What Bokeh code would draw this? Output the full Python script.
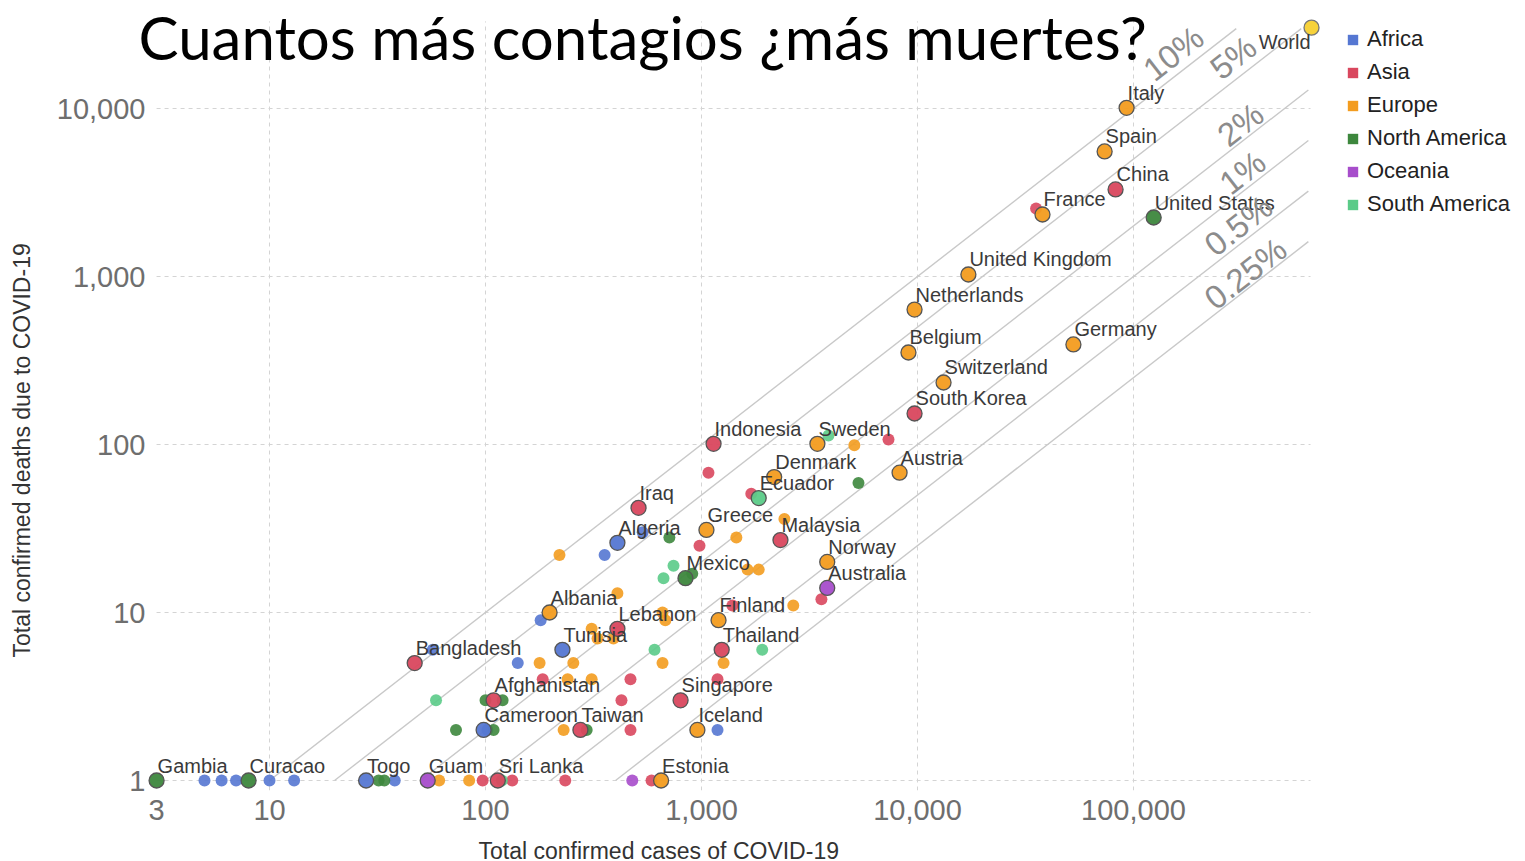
import math
from bokeh.plotting import figure
from bokeh.models import (FixedTicker, NumeralTickFormatter, Label, Legend, LegendItem,
                          ColumnDataSource, Range1d, Title)
from bokeh.embed import file_html
from bokeh.resources import INLINE
from bokeh.core.properties import value

# ---------------- data ----------------
continents = ["Africa", "Asia", "Europe", "North America", "Oceania", "South America"]
continent_colors = ["#5577D2", "#D9475E", "#F39C1F", "#3D873D", "#A74DCB", "#5BCB88"]
world_color = "#F7D23B"

# labelled countries
labeled_names = ["Italy", "Spain", "China", "France", "United States", "United Kingdom",
                 "Netherlands", "Belgium", "Germany", "Switzerland", "South Korea",
                 "Indonesia", "Sweden", "Austria", "Denmark", "Ecuador", "Iraq", "Greece",
                 "Algeria", "Malaysia", "Norway", "Mexico", "Australia", "Albania",
                 "Lebanon", "Finland", "Tunisia", "Thailand", "Bangladesh", "Afghanistan",
                 "Singapore", "Cameroon", "Taiwan", "Iceland", "Gambia", "Curacao", "Togo",
                 "Guam", "Sri Lanka", "Estonia"]
labeled_continent = ["Europe", "Europe", "Asia", "Europe", "North America", "Europe",
                     "Europe", "Europe", "Europe", "Europe", "Asia",
                     "Asia", "Europe", "Europe", "Europe", "South America", "Asia", "Europe",
                     "Africa", "Asia", "Europe", "North America", "Oceania", "Europe",
                     "Asia", "Europe", "Africa", "Asia", "Asia", "Asia",
                     "Asia", "Africa", "Asia", "Europe", "North America", "North America", "Africa",
                     "Oceania", "Asia", "Europe"]
labeled_cases = [92900, 73500, 82600, 37900, 124000, 17200,
                 9690, 9080, 52700, 13200, 9690,
                 1137, 3440, 8260, 2170, 1840, 511, 1054,
                 408, 2320, 3820, 843, 3820, 198,
                 408, 1199, 227, 1240, 47, 109,
                 800, 98, 275, 957, 3, 8, 28,
                 54, 114, 650]
labeled_deaths = [10100, 5550, 3300, 2340, 2245, 1028,
                  636, 353, 394, 234, 153,
                  101, 101, 68, 64, 48, 42, 31,
                  26, 27, 20, 16, 14, 10,
                  8, 9, 6, 6, 5, 3,
                  3, 2, 2, 2, 1, 1, 1,
                  1, 1, 1]

world_name = "World"
world_cases = 667000
world_deaths = 30300

# unlabelled countries
other_continent = (["Asia"] * 16 + ["Europe"] * 22 + ["Africa"] * 13 +
                   ["North America"] * 10 + ["South America"] * 7 + ["Oceania"] * 1)
other_cases = [35400, 7340, 1077, 1700, 979, 1390, 3590, 1186, 469, 426, 184, 469, 133, 97, 234, 587,
               5100, 2420, 1450, 220, 1634, 1840, 2660, 408, 310, 330, 391, 660, 680, 178, 255, 660,
               1265, 240, 310, 230, 61, 84,
               534, 356, 180, 57, 141, 102, 1186, 5, 6, 7, 10, 13, 38,
               5330, 710, 906, 100, 120, 73, 109, 294, 32, 34,
               3870, 742, 667, 606, 1910, 59, 119,
               478]
other_deaths = [2540, 107, 68, 51, 25, 11, 12, 4, 4, 3, 4, 2, 1, 1, 1, 1,
                99, 36, 28, 22, 18, 18, 11, 13, 8, 7, 7, 10, 9, 5, 5, 5,
                5, 4, 4, 2, 1, 1,
                30, 22, 9, 6, 5, 2, 2, 1, 1, 1, 1, 1, 1,
                59, 28, 17, 3, 3, 2, 2, 2, 1, 1,
                113, 19, 16, 6, 6, 3, 1,
                1]

# case fatality reference lines
cfr_levels = [0.10, 0.05, 0.02, 0.01, 0.005, 0.0025]
cfr_texts = ["10%", "5%", "2%", "1%", "0.5%", "0.25%"]
cfr_label_cases = [153000, 290000, 313000, 320000, 306000, 330000]
cfr_label_deaths = [21250, 20130, 8030, 4160, 2010, 1042]
line_cases_max = 645000
line_deaths_max = 29900

x_ticks = [3, 10, 100, 1000, 10000, 100000]
x_grid = [10, 100, 1000, 10000, 100000]
y_ticks = [1, 10, 100, 1000, 10000]
grid_cases_max = 660000
grid_deaths_max = 33000

title_text = "Cuantos más contagios ¿más muertes?"
x_title = "Total confirmed cases of COVID-19"
y_title = "Total confirmed deaths due to COVID-19"

# ---------------- figure ----------------
cmap = dict(zip(continents, continent_colors))
X0, X1 = 2.224, 6190000
Y0, Y1 = 0.872, 43950

p = figure(x_axis_type="log", y_axis_type="log",
           x_range=Range1d(X0, X1), y_range=Range1d(Y0, Y1),
           frame_width=1392, frame_height=790,
           min_border_left=128, min_border_top=0, min_border_right=0, min_border_bottom=0,
           output_backend="svg", toolbar_location=None, title=None)
p.outline_line_color = None
p.background_fill_color = "white"
p.border_fill_color = "white"
p.xgrid.visible = False
p.ygrid.visible = False

# axes
for ax in (p.xaxis, p.yaxis):
    ax.axis_line_color = None
    ax.major_tick_line_color = None
    ax.minor_tick_line_color = None
    ax.major_tick_out = 0
    ax.major_tick_in = 0
    ax.minor_tick_out = 0
    ax.formatter = NumeralTickFormatter(format="0,0")
    ax.major_label_text_font = "Liberation Sans"
    ax.major_label_text_font_size = "29px"
    ax.major_label_text_color = "#6e6e6e"
p.xaxis.ticker = FixedTicker(ticks=x_ticks)
p.yaxis.ticker = FixedTicker(ticks=y_ticks)
p.xaxis.major_label_standoff = 9
p.yaxis.major_label_standoff = -17

p.add_layout(Title(text=x_title, align="left", offset=350, standoff=27,
                   text_font="Liberation Sans", text_font_size="23px",
                   text_font_style="normal", text_color="#333333"), "below")
# thin spacer between the y tick labels and the y title
p.add_layout(Title(text=" ", text_font_size="1px", standoff=11), "left")
p.add_layout(Title(text=y_title, align="left", offset=133, standoff=10,
                   text_font="Liberation Sans", text_font_size="23px",
                   text_font_style="normal", text_color="#333333"), "left")

# dashed grid
p.segment(x0=[x_ticks[0]] * len(y_ticks), y0=y_ticks, x1=[grid_cases_max] * len(y_ticks), y1=y_ticks,
          line_color="#d4d4d4", line_dash="4 4", line_width=1)
p.segment(x0=x_grid, y0=[Y0] * len(x_grid), x1=x_grid, y1=[grid_deaths_max] * len(x_grid),
          line_color="#d4d4d4", line_dash="4 4", line_width=1)

# CFR lines
for lvl in cfr_levels:
    x0 = 1.0 / lvl
    x1 = min(line_cases_max, line_deaths_max / lvl)
    p.line([x0, x1], [1.0, lvl * x1], line_color="#c9c9c9", line_width=1.4)

for t, cx, cy in zip(cfr_texts, cfr_label_cases, cfr_label_deaths):
    p.add_layout(Label(x=cx, y=cy, text=t, angle=math.atan(168 / 216),
                       text_align="center", text_baseline="middle",
                       text_font="Liberation Sans", text_font_size="33px",
                       text_color="#8c8c8c"))

# unlabelled points
src_o = ColumnDataSource(dict(x=other_cases, y=other_deaths,
                              c=[cmap[k] for k in other_continent]))
p.scatter("x", "y", source=src_o, size=12, fill_color="c", fill_alpha=0.9, line_color=None)

# labelled points
src_l = ColumnDataSource(dict(x=labeled_cases, y=labeled_deaths, name=labeled_names,
                              c=[cmap[k] for k in labeled_continent]))
p.scatter("x", "y", source=src_l, size=15, fill_color="c", fill_alpha=0.95,
          line_color="#555555", line_width=1.3)
p.text("x", "y", text="name", source=src_l, x_offset=1, y_offset=-15,
       text_align="left", text_baseline="middle",
       text_font=value("Liberation Sans"), text_font_size="20px", text_color="#3a3a3a")

# world
p.scatter([world_cases], [world_deaths], size=15, fill_color=world_color,
          line_color="#777777", line_width=1.3)
p.text([world_cases], [world_deaths], text=[world_name], x_offset=-1, y_offset=14,
       text_align="right", text_baseline="middle",
       text_font=value("Liberation Sans"), text_font_size="20px", text_color="#3a3a3a")

# legend (square swatches; proxy quads have zero area at an existing data point)
items = []
for name, col in zip(continents, continent_colors):
    i = other_continent.index(name)
    cx, cy = other_cases[i], other_deaths[i]
    r = p.quad(left=[cx], right=[cx], top=[cy], bottom=[cy],
               fill_color=col, fill_alpha=1.0, line_color=None)
    items.append(LegendItem(label=name, renderers=[r]))
legend = Legend(items=items, location=(1218, 573), glyph_width=13, glyph_height=13,
                label_standoff=8, spacing=7, label_height=26, padding=0, margin=0,
                border_line_alpha=0, background_fill_alpha=0,
                label_text_font="Liberation Sans", label_text_font_size="22px",
                label_text_color="#222222")
p.add_layout(legend)

# title overlay
p.add_layout(Label(x=2.475, y=43500, text=title_text, text_align="left",
                   text_baseline="top", text_font="Lato",
                   text_font_size="60px", text_color="#000000"))

open("out.html", "w").write(file_html(p, INLINE))
